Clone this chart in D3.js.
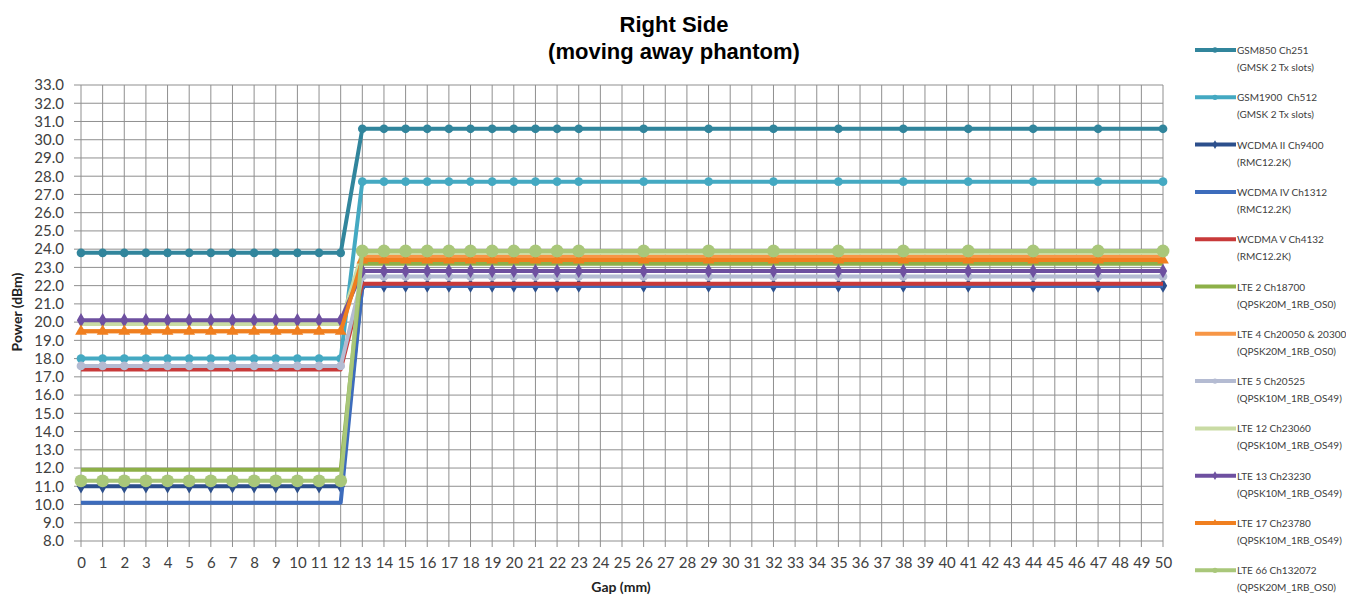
<!DOCTYPE html>
<html>
<head>
<meta charset="utf-8">
<script src="https://cdn.jsdelivr.net/npm/d3@7"></script>
<style>
  body { margin: 0; background: #fff; }
  text { font-family: Lato, "Liberation Sans", sans-serif; }
</style>
</head>
<body>
<div id="chart"></div>
<script>
// Right Side (moving away phantom) - power vs gap, one line per band

const gaps = [0, 1, 2, 3, 4, 5, 6, 7, 8, 9, 10, 11, 12, 13, 14, 15, 16, 17, 18, 19, 20, 21, 22, 23,
              26, 29, 32, 35, 38, 41, 44, 47, 50];

const gsm850  = [23.8, 23.8, 23.8, 23.8, 23.8, 23.8, 23.8, 23.8, 23.8, 23.8, 23.8, 23.8, 23.8,
                 30.6, 30.6, 30.6, 30.6, 30.6, 30.6, 30.6, 30.6, 30.6, 30.6, 30.6, 30.6, 30.6, 30.6, 30.6, 30.6, 30.6, 30.6, 30.6, 30.6];
const gsm1900 = [18.0, 18.0, 18.0, 18.0, 18.0, 18.0, 18.0, 18.0, 18.0, 18.0, 18.0, 18.0, 18.0,
                 27.7, 27.7, 27.7, 27.7, 27.7, 27.7, 27.7, 27.7, 27.7, 27.7, 27.7, 27.7, 27.7, 27.7, 27.7, 27.7, 27.7, 27.7, 27.7, 27.7];
const wcdma2  = [11.0, 11.0, 11.0, 11.0, 11.0, 11.0, 11.0, 11.0, 11.0, 11.0, 11.0, 11.0, 11.0,
                 22.0, 22.0, 22.0, 22.0, 22.0, 22.0, 22.0, 22.0, 22.0, 22.0, 22.0, 22.0, 22.0, 22.0, 22.0, 22.0, 22.0, 22.0, 22.0, 22.0];
const wcdma4  = [10.1, 10.1, 10.1, 10.1, 10.1, 10.1, 10.1, 10.1, 10.1, 10.1, 10.1, 10.1, 10.1,
                 22.0, 22.0, 22.0, 22.0, 22.0, 22.0, 22.0, 22.0, 22.0, 22.0, 22.0, 22.0, 22.0, 22.0, 22.0, 22.0, 22.0, 22.0, 22.0, 22.0];
const wcdma5  = [17.4, 17.4, 17.4, 17.4, 17.4, 17.4, 17.4, 17.4, 17.4, 17.4, 17.4, 17.4, 17.4,
                 22.1, 22.1, 22.1, 22.1, 22.1, 22.1, 22.1, 22.1, 22.1, 22.1, 22.1, 22.1, 22.1, 22.1, 22.1, 22.1, 22.1, 22.1, 22.1, 22.1];
const lte2    = [11.9, 11.9, 11.9, 11.9, 11.9, 11.9, 11.9, 11.9, 11.9, 11.9, 11.9, 11.9, 11.9,
                 23.2, 23.2, 23.2, 23.2, 23.2, 23.2, 23.2, 23.2, 23.2, 23.2, 23.2, 23.2, 23.2, 23.2, 23.2, 23.2, 23.2, 23.2, 23.2, 23.2];
const lte4    = [19.5, 19.5, 19.5, 19.5, 19.5, 19.5, 19.5, 19.5, 19.5, 19.5, 19.5, 19.5, 19.5,
                 23.6, 23.6, 23.6, 23.6, 23.6, 23.6, 23.6, 23.6, 23.6, 23.6, 23.6, 23.6, 23.6, 23.6, 23.6, 23.6, 23.6, 23.6, 23.6, 23.6];
const lte5    = [17.6, 17.6, 17.6, 17.6, 17.6, 17.6, 17.6, 17.6, 17.6, 17.6, 17.6, 17.6, 17.6,
                 22.5, 22.5, 22.5, 22.5, 22.5, 22.5, 22.5, 22.5, 22.5, 22.5, 22.5, 22.5, 22.5, 22.5, 22.5, 22.5, 22.5, 22.5, 22.5, 22.5];
const lte12   = [19.9, 19.9, 19.9, 19.9, 19.9, 19.9, 19.9, 19.9, 19.9, 19.9, 19.9, 19.9, 19.9,
                 23.8, 23.8, 23.8, 23.8, 23.8, 23.8, 23.8, 23.8, 23.8, 23.8, 23.8, 23.8, 23.8, 23.8, 23.8, 23.8, 23.8, 23.8, 23.8, 23.8];
const lte13   = [20.1, 20.1, 20.1, 20.1, 20.1, 20.1, 20.1, 20.1, 20.1, 20.1, 20.1, 20.1, 20.1,
                 22.8, 22.8, 22.8, 22.8, 22.8, 22.8, 22.8, 22.8, 22.8, 22.8, 22.8, 22.8, 22.8, 22.8, 22.8, 22.8, 22.8, 22.8, 22.8, 22.8];
const lte17   = [19.5, 19.5, 19.5, 19.5, 19.5, 19.5, 19.5, 19.5, 19.5, 19.5, 19.5, 19.5, 19.5,
                 23.4, 23.4, 23.4, 23.4, 23.4, 23.4, 23.4, 23.4, 23.4, 23.4, 23.4, 23.4, 23.4, 23.4, 23.4, 23.4, 23.4, 23.4, 23.4, 23.4];
const lte66   = [11.3, 11.3, 11.3, 11.3, 11.3, 11.3, 11.3, 11.3, 11.3, 11.3, 11.3, 11.3, 11.3,
                 23.9, 23.9, 23.9, 23.9, 23.9, 23.9, 23.9, 23.9, 23.9, 23.9, 23.9, 23.9, 23.9, 23.9, 23.9, 23.9, 23.9, 23.9, 23.9, 23.9];

const seriesNames = [
  ["GSM850 Ch251", "(GMSK 2 Tx slots)"],
  ["GSM1900  Ch512", "(GMSK 2 Tx slots)"],
  ["WCDMA II Ch9400", "(RMC12.2K)"],
  ["WCDMA IV Ch1312", "(RMC12.2K)"],
  ["WCDMA V Ch4132", "(RMC12.2K)"],
  ["LTE 2 Ch18700", "(QPSK20M_1RB_OS0)"],
  ["LTE 4 Ch20050 & 20300", "(QPSK20M_1RB_OS0)"],
  ["LTE 5 Ch20525", "(QPSK10M_1RB_OS49)"],
  ["LTE 12 Ch23060", "(QPSK10M_1RB_OS49)"],
  ["LTE 13 Ch23230", "(QPSK10M_1RB_OS49)"],
  ["LTE 17 Ch23780", "(QPSK10M_1RB_OS49)"],
  ["LTE 66 Ch132072", "(QPSK20M_1RB_OS0)"]
];
const seriesValues = [gsm850, gsm1900, wcdma2, wcdma4, wcdma5, lte2, lte4, lte5, lte12, lte13, lte17, lte66];
const seriesColors = ["#31859c", "#44a9c2", "#2c4f8c", "#3d6cbc", "#c83a3a", "#8db048",
                      "#f79646", "#b4bbd2", "#c9dba4", "#6e50a0", "#f07f1f", "#a9c77a"];
const seriesMarkers = ["circle", "circle", "diamond", "none", "none", "none",
                       "none", "circle", "none", "diamond", "triangle", "circle"];

const yTicks = d3.range(8, 34);
const xTicks = d3.range(0, 51);

const W = 1346, H = 595;
const margin = {left: 81, right: 183, top: 85, bottom: 54};

const svg = d3.select("#chart").append("svg")
  .attr("width", W).attr("height", H);

const x = d3.scaleLinear().domain([0, 50]).range([margin.left, W - margin.right]);
const y = d3.scaleLinear().domain([8, 33]).range([H - margin.bottom, margin.top]);

// grid
const grid = svg.append("g");
grid.selectAll(".hg").data(yTicks).enter().append("line")
  .attr("x1", x(0) - 7).attr("x2", x(50))
  .attr("y1", d => y(d)).attr("y2", d => y(d))
  .attr("stroke", "#8f8f8f").attr("stroke-width", 1);
grid.selectAll(".vg").data(xTicks).enter().append("line")
  .attr("x1", d => x(d)).attr("x2", d => x(d))
  .attr("y1", y(33)).attr("y2", y(8) + 6)
  .attr("stroke", "#8f8f8f").attr("stroke-width", 1);

// axes labels
const yAxis = d3.axisLeft(y).tickValues(yTicks).tickFormat(d3.format(".1f")).tickSize(0).tickPadding(17);
svg.append("g").attr("transform", `translate(${x(0)},0)`).call(yAxis)
  .call(g => g.select(".domain").remove())
  .selectAll("text").attr("font-size", 15).attr("fill", "#404040")
  .style("font-family", "Lato, sans-serif");

const xAxis = d3.axisBottom(x).tickValues(xTicks).tickFormat(d3.format("d")).tickSize(0).tickPadding(16);
svg.append("g").attr("transform", `translate(0,${y(8)})`).call(xAxis)
  .call(g => g.select(".domain").remove())
  .selectAll("text").attr("font-size", 15).attr("fill", "#404040")
  .style("font-family", "Lato, sans-serif");

// titles
svg.append("text").attr("x", 674).attr("y", 32).attr("text-anchor", "middle")
  .style("font-family", "'Liberation Sans', Arial, sans-serif")
  .attr("font-weight", "bold").attr("font-size", 22).text("Right Side");
svg.append("text").attr("x", 674).attr("y", 59).attr("text-anchor", "middle")
  .style("font-family", "'Liberation Sans', Arial, sans-serif")
  .attr("font-weight", "bold").attr("font-size", 22).text("(moving away phantom)");
svg.append("text").attr("x", 621).attr("y", 592).attr("text-anchor", "middle")
  .attr("font-weight", "bold").attr("font-size", 14).attr("fill", "#222").text("Gap (mm)");
svg.append("text").attr("transform", "translate(22,312) rotate(-90)").attr("text-anchor", "middle")
  .attr("font-weight", "bold").attr("font-size", 14).attr("fill", "#222").text("Power (dBm)");

// marker shape helper
function markerPath(type, size) {
  if (type === "circle") return d3.symbol(d3.symbolCircle, size)();
  if (type === "diamond") return d3.symbol(d3.symbolDiamond, size)();
  if (type === "triangle") return d3.symbol(d3.symbolTriangle, size)();
  return null;
}

const line = d3.line().x(d => x(d[0])).y(d => y(d[1]));

// series
seriesValues.forEach((vals, i) => {
  const pts = gaps.map((g, j) => [g, vals[j]]);
  const g = svg.append("g");
  g.append("path").datum(pts)
    .attr("d", line)
    .attr("fill", "none")
    .attr("stroke", seriesColors[i])
    .attr("stroke-width", 4)
    .attr("stroke-linejoin", "round");
  const mp = markerPath(seriesMarkers[i], i === 11 ? 130 : 60);
  if (mp) {
    g.selectAll("path.m").data(pts).enter().append("path")
      .attr("class", "m")
      .attr("d", mp)
      .attr("transform", d => `translate(${x(d[0])},${y(d[1])})`)
      .attr("fill", seriesColors[i]);
  }
});

// legend
const legend = svg.append("g");
seriesNames.forEach((nm, i) => {
  const ly = 50 + i * 47.3;
  legend.append("line")
    .attr("x1", 1195).attr("x2", 1236).attr("y1", ly).attr("y2", ly)
    .attr("stroke", seriesColors[i]).attr("stroke-width", 4);
  const mp = markerPath(seriesMarkers[i], 22);
  if (mp) {
    legend.append("path").attr("d", mp)
      .attr("transform", `translate(1215,${ly})`).attr("fill", seriesColors[i]);
  }
  legend.append("text").attr("x", 1237).attr("y", ly + 4)
    .attr("font-size", 10).attr("fill", "#404040")
    .style("white-space", "pre")
    .text(nm[0]);
  legend.append("text").attr("x", 1237).attr("y", ly + 21)
    .attr("font-size", 10).attr("fill", "#404040")
    .text(nm[1]);
});
</script>
</body>
</html>
